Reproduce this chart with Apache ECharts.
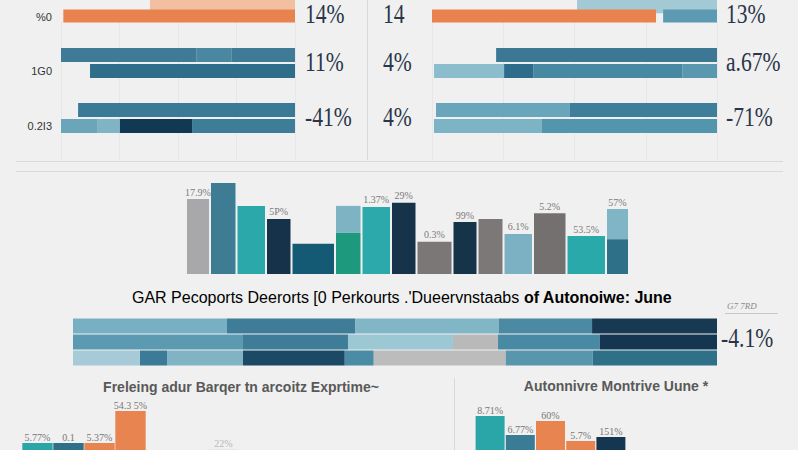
<!DOCTYPE html>
<html>
<head>
<meta charset="utf-8">
<script src="https://cdn.jsdelivr.net/npm/echarts@6/dist/echarts.min.js"></script>
<style>
    html, body { margin: 0; padding: 0; background: #f0f0f0; }
    #content { width: 798px; height: 450px; }
</style>
</head>
<body>
<div id="content"></div>
<script>
!(function(window) {
    var element = document.getElementById('content');
    var myChart = echarts.init(element, null, { renderer: 'svg' });

    // top panels: every row is [offset, segment, segment, ...] on a 0-100 scale
    var leftRows = [
        [[38, 62], [1, 99]],
        [[0, 58, 15, 27], [12.4, 87.6]],
        [[7.3, 92.7], [0, 15.4, 9.8, 30.8, 44]]
    ];
    var leftRowLabels = ['%0', '1G0', '0.2I3'];
    var leftValueLabels = ['14%', '11%', '-41%'];

    var rightRows = [
        [[50.9, 49.1], [0, 78.6, 2.5, 18.9]],
        [[22.5, 77.5], [0.7, 24.6, 10.2, 52.3, 12.2]],
        [[1.4, 47, 51.6], [0.7, 37.9, 61.4]]
    ];
    var rightSideLabels = ['14', '4%', '4%'];
    var rightValueLabels = ['13%', 'a.67%', '-71%'];

    // middle chart: bin edges, bar value, stacked cap value, labels
    var midEdges = [0, 24, 50.5, 80, 105.5, 149, 175.5, 205, 230.5, 266.5, 291.5, 317.5, 347, 380.5, 420, 443];
    var midBase = [72, 87.5, 65.5, 53, 29, 39.5, 64.5, 68.5, 31, 50, 53, 38.5, 58.5, 36.5, 33.5];
    var midCap = [0, 0, 0, 0, 0, 26, 0, 0, 0, 0, 0, 0, 0, 0, 29];
    var midLabels = ['17.9%', '', '', '5P%', '', '', '1.37%', '29%', '0.3%', '99%', '', '6.1%', '5.2%', '53.5%', '57%'];

    // wide stacked bars
    var stackRows = [
        [23.9, 19.9, 22.3, 14.5, 19.4],
        [26.4, 16.3, 16.3, 7.0, 15.8, 18.2],
        [10.4, 4.2, 11.8, 15.8, 4.5, 20.5, 13.5, 19.3]
    ];
    var stackValueLabel = '-4.1%';
    var stackUnitLabel = 'G7 7RD';
    var mainTitle = ['GAR Pecoports Deerorts [0 Perkourts .\'Dueervnstaabs ', 'of Autonoiwe: June'];

    // bottom charts (only the tops of the bars are inside the picture)
    var bottomLeftTitle = 'Freleing adur Barqer tn arcoitz Exprtime~';
    var bottomLeftCats = ['A', 'B', 'C', 'D', 'E', 'F', 'G'];
    var bottomLeftValues = [57, 57, 57, 89, '-', '-', 50.4];
    var bottomLeftLabels = ['5.77%', '0.1', '5.37%', '54.3 5%', '', '', '22%'];

    var bottomRightTitle = 'Autonnivre Montrive Uune *';
    var bottomRightCats = ['A', 'B', 'C', 'D', 'E'];
    var bottomRightValues = [84, 65, 79, 59, 63];
    var bottomRightLabels = ['8.71%', '6.77%', '60%', '5.7%', '151%'];

    // colours
    var leftColors = [
        [['#f3bfa1'], ['#e8834f']],
        [['#3f7b97', '#4a88a2', '#3f7b97'], ['#2e6e8b']],
        [['#3b7a96'], ['#6aa5b9', '#80b3c3', '#123954', '#3e7d98']]
    ];
    var rightColors = [
        [['#a3c9d5'], ['#e8834f', 'transparent', '#5b9ab2']],
        [['#3c7793'], ['#8bbdcc', '#2d6d8b', '#4788a3', '#5a98b0']],
        [['#6aa6bb', '#3f7e9a'], ['#7db4c5', '#5495ae']]
    ];
    var midColors = ['#a8a8aa', '#3d7c93', '#2ba8aa', '#15324a', '#155a75', '#1d9a7d', '#2ba9ab', '#16334a',
        '#7b7777', '#15344a', '#7d7878', '#7cb1c3', '#747070', '#2aa9ab', '#2f7089'];
    var midCapColors = { 5: '#7eb3c3', 14: '#7fb5c5' };
    var stackColors = [
        ['#79afc2', '#3e7c98', '#80b6c6', '#4c8aa4', '#173a52'],
        ['#5b9ab1', '#3e7c98', '#9bc8d3', '#b9b9b9', '#4889a4', '#153650'],
        ['#a7cbd6', '#3c7b97', '#80b4c5', '#1c4966', '#4a8ba5', '#bcbcbc', '#5896ae', '#2e7088']
    ];
    var bottomLeftColors = ['#2ba6a8', '#2f6f88', '#e8844f', '#e8844f', '#ccc', '#ccc', '#d6d6d6'];
    var bottomRightColors = ['#2ba6a8', '#3a7c95', '#e8844f', '#e8844f', '#153650'];

    var hidden = { show: false };
    var option = {
        backgroundColor: '#f0f0f0',
        animation: false,
        grid: [],
        xAxis: [],
        yAxis: [],
        series: [],
        graphic: []
    };

    function addGrid(box, xMax, interval, split) {
        option.grid.push(box);
        var g = option.grid.length - 1;
        option.xAxis.push({
            type: 'value', gridIndex: g, min: 0, max: xMax, interval: interval,
            axisLabel: hidden, axisLine: hidden, axisTick: hidden,
            splitLine: { show: !!split, lineStyle: { color: '#e7e7e7' } }
        });
        return g;
    }

    var groupBox = [{ top: -13.5, height: 36, bar: 15 }, { top: 47, height: 32, bar: 14 }, { top: 102, height: 32, bar: 14 }];

    function addPanel(rows, colors, rowLabels, left, right) {
        // faint split lines behind the panel
        var bg = addGrid({ left: left, right: right, top: 22, height: 138 }, 100, 25, true);
        option.yAxis.push({ type: 'category', gridIndex: bg, data: ['x'], axisLabel: hidden, axisLine: hidden, axisTick: hidden });

        rows.forEach(function(group, gi) {
            var g = addGrid({ left: left, right: right, top: groupBox[gi].top, height: groupBox[gi].height }, 100, 25, false);
            var xi = option.xAxis.length - 1;
            option.yAxis.push({
                type: 'category', gridIndex: g, inverse: true,
                data: ['', rowLabels ? rowLabels[gi] : ''],
                axisLine: hidden, axisTick: hidden,
                axisLabel: { show: !!rowLabels, interval: 0, margin: 9, fontSize: 11, color: '#333', fontFamily: 'Liberation Sans' }
            });
            var yi = option.yAxis.length - 1;
            var maxLen = Math.max(group[0].length, group[1].length);
            for (var k = 0; k < maxLen; k++) {
                option.series.push({
                    type: 'bar', xAxisIndex: xi, yAxisIndex: yi, stack: 'p' + g,
                    barWidth: groupBox[gi].bar, silent: true,
                    data: group.map(function(row, ri) {
                        return {
                            value: row[k] || 0,
                            itemStyle: { color: k === 0 ? 'transparent' : colors[gi][ri][k - 1] }
                        };
                    })
                });
            }
        });
    }

    addPanel(leftRows, leftColors, leftRowLabels, 61, 798 - 295);
    addPanel(rightRows, rightColors, null, 432, 798 - 717);

    // middle chart
    var mg = addGrid({ left: 186, right: 798 - 629, top: 170, height: 104 }, 443, 100, false);
    option.yAxis.push({ type: 'value', gridIndex: mg, min: 0, max: 100, axisLabel: hidden, axisLine: hidden, axisTick: hidden, splitLine: hidden });
    option.series.push({
        type: 'custom', xAxisIndex: option.xAxis.length - 1, yAxisIndex: option.yAxis.length - 1,
        encode: { x: [0, 1], y: [2] },
        data: midBase.map(function(v, i) { return [midEdges[i], midEdges[i + 1], v, midCap[i]]; }),
        renderItem: function(params, api) {
            var i = params.dataIndex;
            var x0 = api.value(0), x1 = api.value(1), base = api.value(2), cap = api.value(3);
            var bl = api.coord([x0, 0]), tr = api.coord([x1, base]);
            var w = tr[0] - bl[0] - 2;
            var children = [{
                type: 'rect',
                shape: { x: bl[0] + 1, y: tr[1], width: w, height: bl[1] - tr[1] },
                style: { fill: midColors[i] }
            }];
            var top = tr[1];
            if (cap > 0) {
                var ct = api.coord([x1, base + cap]);
                children.push({
                    type: 'rect',
                    shape: { x: bl[0] + 1, y: ct[1], width: w, height: tr[1] - ct[1] },
                    style: { fill: midCapColors[i] }
                });
                top = ct[1];
            }
            if (midLabels[i]) {
                children.push({
                    type: 'text',
                    style: {
                        text: midLabels[i], x: (bl[0] + tr[0]) / 2, y: top - 2,
                        align: 'center', verticalAlign: 'bottom',
                        fill: '#7a7a7a', fontSize: 10, fontFamily: 'Liberation Serif'
                    }
                });
            }
            return { type: 'group', children: children };
        }
    });

    // wide stacked bars
    var sg = addGrid({ left: 73, right: 798 - 717, top: 318, height: 48 }, 100, 25, false);
    option.yAxis.push({ type: 'category', gridIndex: sg, inverse: true, data: ['r1', 'r2', 'r3'], axisLabel: hidden, axisLine: hidden, axisTick: hidden });
    var sMax = Math.max.apply(null, stackRows.map(function(r) { return r.length; }));
    for (var k = 0; k < sMax; k++) {
        option.series.push({
            type: 'bar', xAxisIndex: option.xAxis.length - 1, yAxisIndex: option.yAxis.length - 1,
            stack: 'wide', barWidth: 15, silent: true,
            data: stackRows.map(function(row, ri) {
                return { value: row[k] || 0, itemStyle: { color: stackColors[ri][k] || 'transparent' } };
            })
        });
    }

    // bottom charts: the grid ends at the picture's bottom edge, value axis starts at 50
    function addBottom(box, cats, values, labels, colors, gap, faintIndex) {
        option.grid.push(box);
        var g = option.grid.length - 1;
        option.xAxis.push({ type: 'category', gridIndex: g, data: cats, axisLabel: hidden, axisLine: hidden, axisTick: hidden });
        option.yAxis.push({ type: 'value', gridIndex: g, min: 50, max: 100, axisLabel: hidden, axisLine: hidden, axisTick: hidden, splitLine: hidden });
        option.series.push({
            type: 'bar', xAxisIndex: option.xAxis.length - 1, yAxisIndex: option.yAxis.length - 1,
            barCategoryGap: gap, silent: true, clip: true,
            data: values.map(function(v, i) {
                return {
                    value: v,
                    itemStyle: { color: colors[i] },
                    label: {
                        show: !!labels[i], position: 'top', distance: 1, formatter: labels[i],
                        color: i === faintIndex ? '#b8b8b8' : '#777',
                        fontSize: 10, fontFamily: 'Liberation Serif'
                    }
                };
            })
        });
    }
    addBottom({ left: 22, width: 217, top: 400, height: 50 }, bottomLeftCats, bottomLeftValues, bottomLeftLabels, bottomLeftColors, '2%', 6);
    addBottom({ left: 475, width: 151, top: 400, height: 50 }, bottomRightCats, bottomRightValues, bottomRightLabels, bottomRightColors, '4%', -1);

    // separators and free texts
    function line(x1, y1, x2, y2, color) {
        return { type: 'line', silent: true, shape: { x1: x1, y1: y1, x2: x2, y2: y2 }, style: { stroke: color || '#d9d9d9', lineWidth: 1 } };
    }
    function bigLabel(text, x, y) {
        return {
            type: 'text', x: x, y: y, scaleX: 0.8, silent: true,
            style: { text: text, align: 'left', verticalAlign: 'middle', fill: '#2a3548', fontSize: 27, fontFamily: 'Liberation Serif' }
        };
    }
    function title(text, x, y, size) {
        return {
            type: 'text', x: x, y: y, silent: true,
            style: { text: text, align: 'center', verticalAlign: 'middle', fill: '#595959', fontSize: size, fontWeight: 'bold', fontFamily: 'Liberation Sans' }
        };
    }

    var topRowsY = [14, 62, 117];
    option.graphic = [
        line(367.5, 0, 367.5, 160),
        line(16, 161.5, 783, 161.5),
        line(16, 171.5, 783, 171.5),
        line(454.5, 378, 454.5, 450),
        line(725, 313.5, 778, 313.5, '#c8c8c8'),
        {
            type: 'text', x: 402, y: 297, silent: true,
            style: {
                text: '{a|' + mainTitle[0] + '}{b|' + mainTitle[1] + '}',
                align: 'center', verticalAlign: 'middle',
                rich: {
                    a: { fontSize: 16, color: '#5a5a5a', fontFamily: 'Liberation Sans' },
                    b: { fontSize: 16, color: '#1e1e1e', fontWeight: 'bold', fontFamily: 'Liberation Sans' }
                }
            }
        },
        {
            type: 'text', x: 727, y: 306, silent: true,
            style: { text: stackUnitLabel, align: 'left', verticalAlign: 'middle', fill: '#8a8a8a', fontSize: 9, fontStyle: 'italic', fontFamily: 'Liberation Serif' }
        },
        bigLabel(stackValueLabel, 721, 338),
        title(bottomLeftTitle, 241, 387, 14),
        title(bottomRightTitle, 616, 386, 14)
    ];
    topRowsY.forEach(function(y, i) {
        option.graphic.push(bigLabel(leftValueLabels[i], 305, y));
        option.graphic.push(bigLabel(rightSideLabels[i], 383, y));
        option.graphic.push(bigLabel(rightValueLabels[i], 726, y));
    });

    myChart.setOption(option);
})(window);
</script>
</body>
</html>
